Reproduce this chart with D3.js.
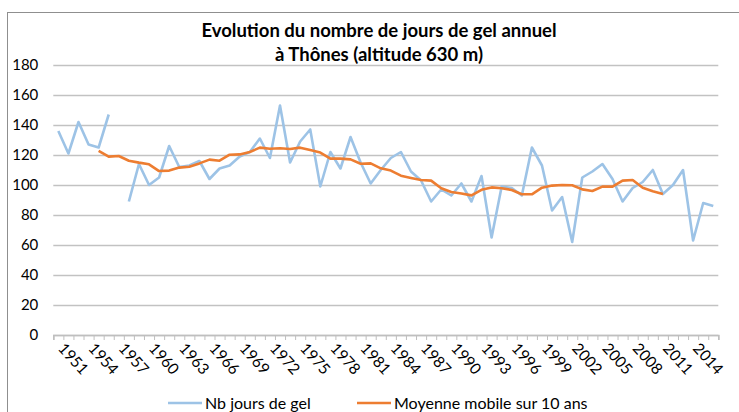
<!DOCTYPE html>
<html>
<head>
<meta charset="utf-8">
<script src="https://cdn.jsdelivr.net/npm/d3@7.9.0/dist/d3.min.js"></script>
<style>
  body { margin: 0; background: #fff; }
  svg { display: block; font-family: Lato, "Open Sans", sans-serif; }
</style>
</head>
<body>
<svg width="739" height="412"></svg>
<script>
// Years 1951..2016 (category axis)
const years = d3.range(1951, 2017);

// Nb jours de gel (1957 missing)
const gel = [
  136, 121, 142, 127, 125, 147, null, 89, 114, 100,
  105, 126, 112, 113, 116, 104, 111, 113, 119, 122,
  131, 118, 153, 115, 129, 137, 99, 122, 111, 132,
  115, 101, 110, 118, 122, 109, 103, 89, 97, 93,
  101, 89, 106, 65, 99, 98, 93, 125, 113, 83,
  92, 62, 105, 109, 114, 104, 89, 98, 102, 110,
  94, 100, 110, 63, 88, 86
];

// Moyenne mobile sur 10 ans (1955..2011)
const moyenne = [
  null, null, null, null,
  122.7, 118.9, 119.3, 116.2, 114.9, 113.8, 109.3, 109.6, 111.6, 112.2,
  114.4, 116.9, 116.2, 120.2, 120.4, 122, 124.9, 124.2, 124.5, 124,
  124.9, 123.3, 121.6, 117.6, 117.6, 117.1, 114.2, 114.4, 111.1, 109.6,
  106.2, 104.7, 103.3, 102.9, 97.8, 95.3, 94.3, 93.1, 96.8, 98.4,
  97.8, 96.7, 93.8, 93.8, 98.2, 99.6, 100, 99.8, 97.1, 96,
  98.9, 98.9, 102.9, 103.3, 98.2, 95.8, 94,
  null, null, null, null, null
];

const yTicks = d3.range(0, 181, 20);
const labelYears = years.filter((d) => (d - 1951) % 3 === 0);

const svg = d3.select("svg");

// chart frame (runs off the page on right / bottom)
svg.append("rect")
  .attr("x", 7.5).attr("y", 12.5)
  .attr("width", 760).attr("height", 420)
  .attr("fill", "none")
  .attr("stroke", "#8f8f8f");

const plotL = 53.3, plotR = 718.3, plotT = 65, plotB = 335;

const x = d3.scaleBand().domain(years).range([plotL, plotR]);
const xi = d3.scaleLinear().domain([0, years.length]).range([plotL, plotR]);
const y = d3.scaleLinear().domain([0, 180]).range([plotB, plotT]);
const cx = (d) => x(d) + x.bandwidth() / 2;

// gridlines + y labels
const yAxis = svg.append("g")
  .attr("transform", `translate(${plotL},0)`)
  .call(d3.axisLeft(y).tickValues(yTicks).tickSize(-(plotR - plotL)).tickPadding(15));
yAxis.select(".domain").remove();
yAxis.selectAll(".tick line")
  .attr("stroke", "#c2c2c2").attr("stroke-width", 1.6);
yAxis.selectAll(".tick text")
  .attr("font-size", 15).attr("fill", "#000")
  .attr("font-family", "Lato, sans-serif");

// category axis: boundary ticks
const xAxis = svg.append("g")
  .attr("transform", `translate(0,${plotB})`)
  .call(d3.axisBottom(xi).tickValues(d3.range(0, years.length + 1)).tickSize(5).tickFormat(""));
xAxis.select(".domain").attr("stroke", "#bfbfbf").attr("stroke-width", 1.6);
xAxis.selectAll(".tick line").attr("stroke", "#bfbfbf");

// rotated year labels
svg.append("g").selectAll("text")
  .data(labelYears)
  .join("text")
  .attr("transform", (d) => `translate(${cx(d) - 1},${plotB + 14}) rotate(48)`)
  .attr("font-size", 15.5)
  .attr("fill", "#000")
  .text((d) => d);

// series
const line = (vals) => d3.line()
  .defined((d, i) => vals[i] != null)
  .x((d, i) => cx(years[i]))
  .y((d, i) => y(vals[i]));

svg.append("path")
  .attr("d", line(gel)(years))
  .attr("fill", "none")
  .attr("stroke", "#9dc3e6")
  .attr("stroke-width", 2.6)
  .attr("stroke-linejoin", "round");

svg.append("path")
  .attr("d", line(moyenne)(years))
  .attr("fill", "none")
  .attr("stroke", "#ed7d31")
  .attr("stroke-width", 2.6)
  .attr("stroke-linejoin", "round");

// title
const title = svg.append("text")
  .attr("text-anchor", "middle")
  .attr("font-size", 18.5)
  .attr("font-weight", "bold")
  .attr("fill", "#000");
title.append("tspan").attr("x", 379).attr("y", 37).text("Evolution du nombre de jours de gel annuel");
title.append("tspan").attr("x", 379).attr("y", 61).text("à Thônes (altitude 630 m)");

// legend
const legend = [
  { label: "Nb jours de gel", color: "#9dc3e6", x: 168 },
  { label: "Moyenne mobile sur 10 ans", color: "#ed7d31", x: 357 }
];
const lg = svg.append("g").selectAll("g").data(legend).join("g")
  .attr("transform", (d) => `translate(${d.x},403)`);
lg.append("line")
  .attr("x1", 0).attr("x2", 34).attr("y1", 0).attr("y2", 0)
  .attr("stroke", (d) => d.color).attr("stroke-width", 2.6);
lg.append("text")
  .attr("x", 37).attr("y", 6)
  .attr("font-size", 16)
  .attr("fill", "#000")
  .text((d) => d.label);
</script>
</body>
</html>
